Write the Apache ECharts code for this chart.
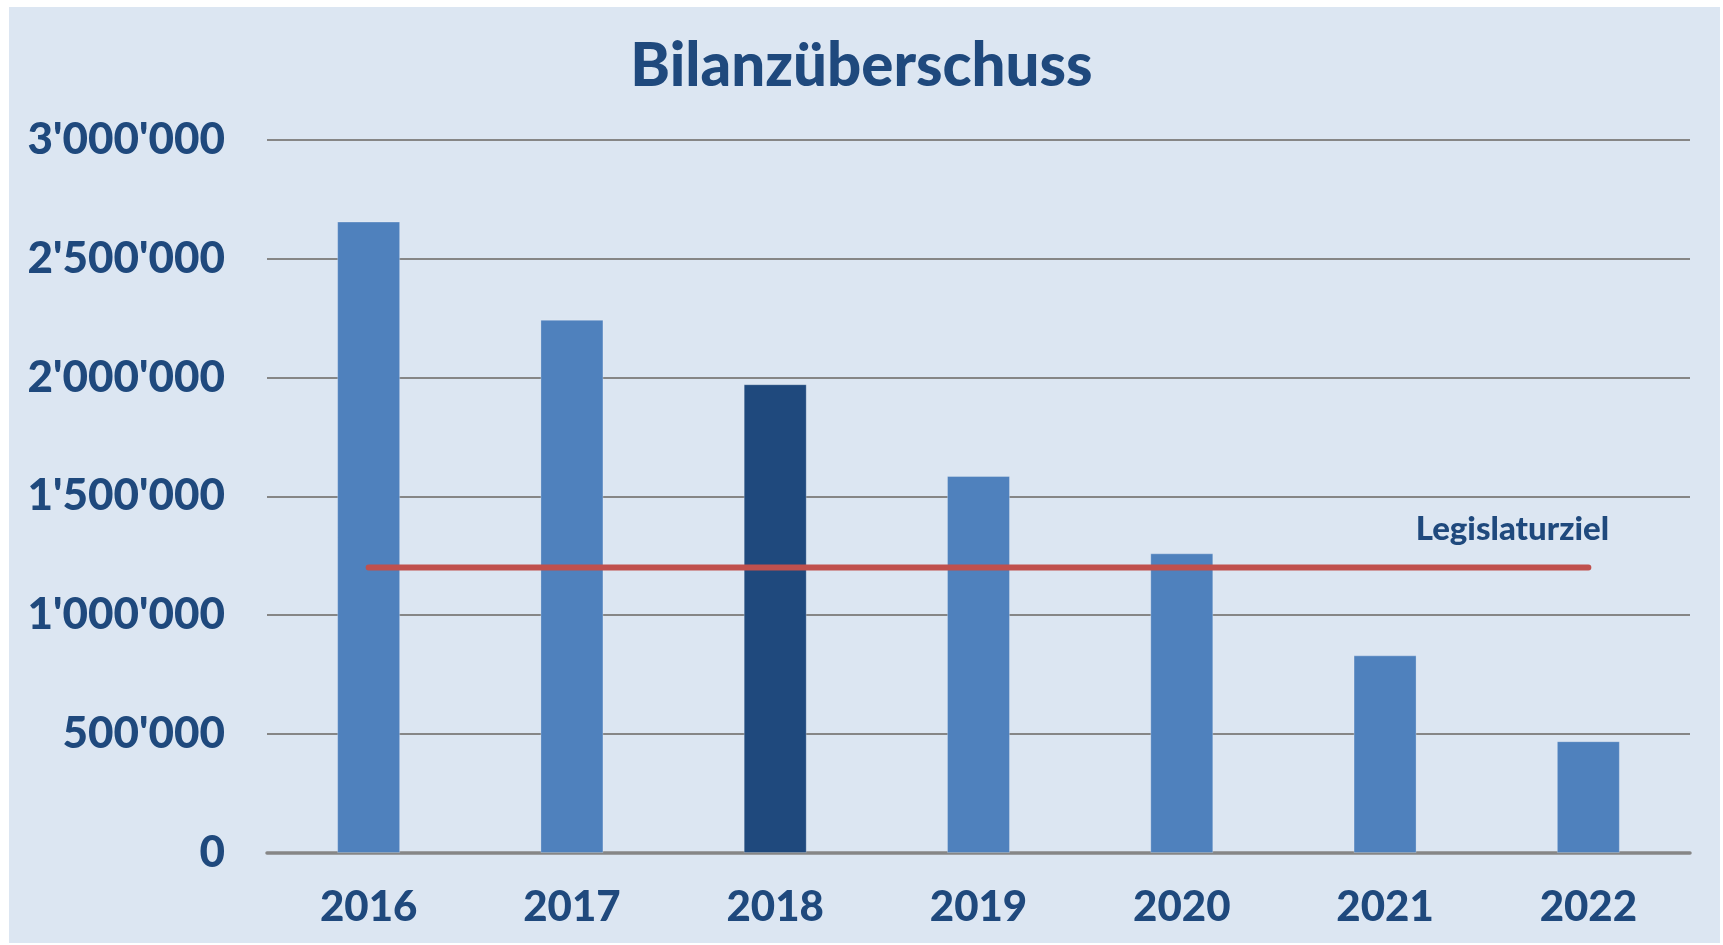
<!DOCTYPE html>
<html>
<head>
<meta charset="utf-8">
<script src="https://cdn.jsdelivr.net/npm/echarts@6/dist/echarts.min.js"></script>
<style>
    html, body { margin: 0; padding: 0; background: #ffffff; }
    #bg { position: absolute; left: 9px; top: 7px; width: 1711px; height: 936px; background: #DCE6F2; }
    #chart { position: absolute; left: 0; top: 0; width: 1723px; height: 945px; }
</style>
</head>
<body>
<div id="bg"></div>
<div id="chart"></div>
<script>
// Bilanzüberschuss pro Jahr
var years = ['2016', '2017', '2018', '2019', '2020', '2021', '2022'];
var surplus = [2655000, 2242000, 1971000, 1585000, 1260000, 831000, 470000];
var target = [1200000, 1200000, 1200000, 1200000, 1200000, 1200000, 1200000];
var highlightYear = '2018';

var textColor = '#1F497D';
var fontName = 'Lato';

function fmt(v) {
    return String(v).replace(/\B(?=(\d{3})+(?!\d))/g, "'");
}

var chart = echarts.init(document.getElementById('chart'));
var option = {
    backgroundColor: 'transparent',
    animation: false,
    title: {
        text: 'Bilanzüberschuss',
        left: 'center',
        top: 32,
        textStyle: {
            color: textColor,
            fontFamily: fontName,
            fontWeight: 900,
            fontSize: 60
        }
    },
    grid: {
        left: 267,
        right: 33,
        top: 139.5,
        bottom: 92
    },
    xAxis: {
        type: 'category',
        data: years,
        axisTick: { show: false },
        axisLine: {
            lineStyle: { color: '#868686', width: 3.5 }
        },
        axisLabel: {
            margin: 33,
            color: textColor,
            fontFamily: fontName,
            fontWeight: 900,
            fontSize: 42
        }
    },
    yAxis: {
        type: 'value',
        min: 0,
        max: 3000000,
        interval: 500000,
        axisLine: { show: false },
        axisTick: { show: false },
        splitLine: {
            lineStyle: { color: '#868686', width: 2 }
        },
        axisLabel: {
            margin: 42,
            color: textColor,
            fontFamily: fontName,
            fontWeight: 900,
            fontSize: 44,
            formatter: fmt
        }
    },
    series: [
        {
            name: 'Bilanzüberschuss',
            type: 'bar',
            barWidth: '31%',
            data: surplus.map(function (v, i) {
                return {
                    value: v,
                    itemStyle: { color: years[i] === highlightYear ? '#1F497D' : '#4F81BD' }
                };
            }),
            itemStyle: {
                borderColor: 'rgba(255,255,255,0.25)',
                borderWidth: 1
            }
        },
        {
            name: 'Legislaturziel',
            type: 'line',
            symbol: 'none',
            z: 5,
            lineStyle: { color: '#C0504D', width: 6, cap: 'round' },
            endLabel: {
                show: true,
                formatter: 'Legislaturziel',
                align: 'center',
                verticalAlign: 'middle',
                offset: [-84, -38],
                color: textColor,
                fontFamily: fontName,
                fontWeight: 900,
                fontSize: 33
            },
            data: target
        }
    ]
};
chart.setOption(option);
</script>
</body>
</html>
